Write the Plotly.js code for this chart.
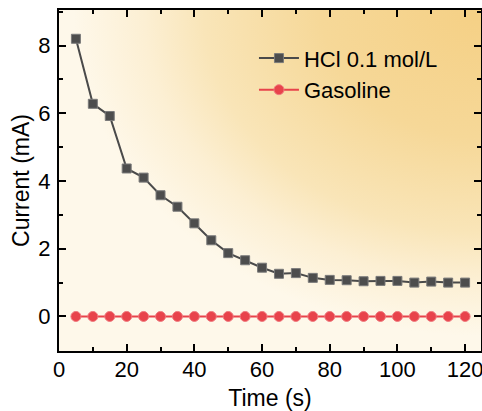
<!DOCTYPE html>
<html>
<head>
<meta charset="utf-8">
<script src="https://cdn.plot.ly/plotly-3.0.1.min.js"></script>
<style>html,body{margin:0;padding:0;background:#fff;}#chart{width:482px;height:411px;}</style>
</head>
<body>
<div id="chart"></div>
<script>
const timeS = [5,10,15,20,25,30,35,40,45,50,55,60,65,70,75,80,85,90,95,100,105,110,115,120];
const hclCurrent = [8.2,6.28,5.92,4.37,4.1,3.58,3.24,2.75,2.25,1.87,1.66,1.44,1.26,1.28,1.14,1.08,1.07,1.04,1.05,1.05,1.0,1.03,1.0,1.0];
const gasolineCurrent = [0,0,0,0,0,0,0,0,0,0,0,0,0,0,0,0,0,0,0,0,0,0,0,0];
const seriesNames = ["HCl 0.1 mol/L", "Gasoline"];
const xTicks = [0,20,40,60,80,100,120];
const yTicks = [0,2,4,6,8];

function gradientImage(w, h) {
  const c = document.createElement('canvas');
  c.width = w; c.height = h;
  const ctx = c.getContext('2d');
  ctx.fillStyle = '#fef8ea';
  ctx.fillRect(0, 0, w, h);
  ctx.save();
  ctx.translate(w, 0);
  ctx.scale(1, 0.8);
  const g = ctx.createRadialGradient(0, 0, 0, 0, 0, 420);
  g.addColorStop(0, '#f5d085');
  g.addColorStop(0.38, '#f6d898');
  g.addColorStop(0.66, '#f9e5b8');
  g.addColorStop(0.8, '#fcefd3');
  g.addColorStop(0.97, '#fef8ea');
  g.addColorStop(1, '#fef8ea');
  ctx.fillStyle = g;
  ctx.fillRect(-w * 2, -h, w * 4, h * 4);
  ctx.restore();
  return c.toDataURL('image/png');
}

const font = {family: 'Liberation Sans, Arial, sans-serif', color: '#000'};

const traces = [
  {x: timeS, y: hclCurrent, name: seriesNames[0], type: 'scatter', mode: 'lines+markers',
   line: {color: '#4a4a4a', width: 2},
   marker: {symbol: 'square', size: 9, color: '#4d4d4d', line: {color: '#7a7a7a', width: 1}}},
  {x: timeS, y: gasolineCurrent, name: seriesNames[1], type: 'scatter', mode: 'lines+markers',
   line: {color: '#e8434b', width: 2},
   marker: {symbol: 'circle', size: 10, color: '#e8434b', line: {color: '#f07a7f', width: 1}}}
];

const axisCommon = {
  showline: true, linecolor: '#000', linewidth: 2, mirror: 'ticks',
  ticks: 'inside', ticklen: 7, tickwidth: 2, tickcolor: '#000',
  showgrid: false, zeroline: false, ticklabeloverflow: 'allow',
  tickfont: Object.assign({size: 22}, font)
};

const layout = {
  width: 482, height: 411,
  margin: {l: 59, r: 1, t: 10, b: 60},
  paper_bgcolor: '#ffffff',
  plot_bgcolor: 'rgba(0,0,0,0)',
  showlegend: true,
  legend: {x: 0.462, y: 0.92, xanchor: 'left', yanchor: 'top', bgcolor: 'rgba(0,0,0,0)',
           font: Object.assign({size: 22}, font), tracegroupgap: 0, itemwidth: 40},
  xaxis: Object.assign({}, axisCommon, {
    range: [0, 124.7], tickvals: xTicks, ticktext: xTicks.map(String),
    ticklabelstandoff: -2,
    minor: {dtick: 10, tick0: 0, ticks: 'inside', ticklen: 4, tickwidth: 2, tickcolor: '#000'},
    title: {text: 'Time (s)', font: Object.assign({size: 23}, font), standoff: 10}
  }),
  yaxis: Object.assign({}, axisCommon, {
    range: [-1.02, 9.05], tickvals: yTicks, ticktext: yTicks.map(String),
    ticklabelstandoff: 2,
    minor: {dtick: 1, tick0: 0, ticks: 'inside', ticklen: 4, tickwidth: 2, tickcolor: '#000'},
    title: {text: 'Current (mA)', font: Object.assign({size: 23}, font), standoff: 2}
  }),
  images: [{source: gradientImage(422, 341), xref: 'paper', yref: 'paper', x: 0, y: 1,
            sizex: 1, sizey: 1, sizing: 'stretch', xanchor: 'left', yanchor: 'top', layer: 'below'}]
};

Plotly.newPlot('chart', traces, layout, {displayModeBar: false, staticPlot: true});
</script>
</body>
</html>
